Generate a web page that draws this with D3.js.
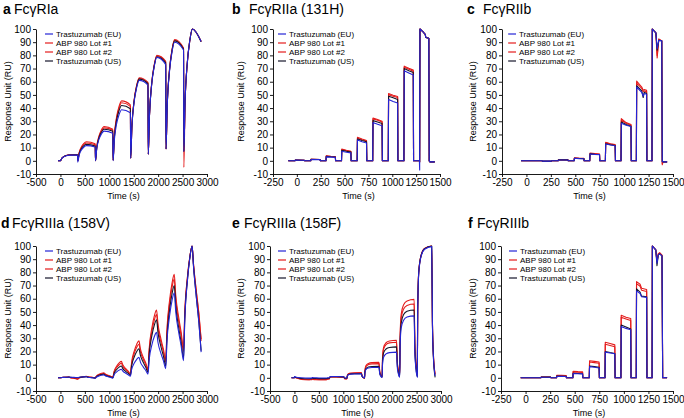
<!doctype html>
<html>
<head>
<meta charset="UTF-8">
<title>Fc gamma receptor binding sensorgrams</title>
<script src="https://cdn.jsdelivr.net/npm/d3@7"></script>
<style>
body { margin: 0; background: #fff; }
svg text { font-family: "Liberation Sans", Arial, sans-serif; fill: #000; }
</style>
</head>
<body>
<svg id="chart" width="684" height="418"></svg>
<script>
// series, in legend order
var seriesNames = ["Trastuzumab (EU)", "ABP 980 Lot #1", "ABP 980 Lot #2", "Trastuzumab (US)"];
var seriesColors = ["#2424d6", "#e41c1c", "#e41c1c", "#15152a"];
var yTicks = [-10, 0, 10, 20, 30, 40, 50, 60, 70, 80, 90, 100];
var xTicksLong = [-500, 0, 500, 1000, 1500, 2000, 2500, 3000];
var xTicksShort = [-250, 0, 250, 500, 750, 1000, 1250, 1500];

// a  FcγRIa
var aTime = [-50, 0, 25, 70, 120, 175, 350, 356, 381, 426, 476, 531, 712, 718, 743, 788, 838, 893, 1072, 1078, 1103, 1148, 1198, 1253, 1432, 1438, 1463, 1508, 1558, 1613, 1792, 1798, 1823, 1868, 1918, 1973, 2155, 2161, 2186, 2231, 2281, 2336, 2520, 2526, 2551, 2596, 2646, 2701, 2880];
var aEU   = [0, 0, 1.7, 3.1, 3.9, 4.3, 4.3, -1, 4, 8, 10.3, 11.5, 10.5, 0, 9, 16.2, 20.3, 22.5, 21, 0, 15.5, 27.8, 34.8, 38.7, 36.5, 2, 25.6, 44.5, 55.1, 61, 57.5, 5, 34.4, 57.9, 71.2, 78.5, 73, 9, 41.4, 67.3, 81.9, 90, 84, 7, 44.2, 74, 90.7, 100, 90.5];
var aLot1 = [0, 0, 1.8, 3.2, 4.1, 4.5, 4.6, 0, 5.8, 10.4, 13.1, 14.5, 13, 0, 10.4, 18.7, 23.4, 26, 24, 0.5, 18.5, 32.9, 41, 45.5, 42.5, 2, 26.4, 45.9, 56.9, 63, 59.5, 5, 35, 59, 72.5, 80, 75.5, 9, 42.2, 68.8, 83.7, 92, 85.5, -5, 44, 74, 90.7, 100, 90.5];
var aLot2 = [0, 0, 1.8, 3.2, 4, 4.5, 4.5, 0, 5.4, 9.7, 12.2, 13.5, 12.2, 0, 10, 18, 22.5, 25, 23.2, 0.5, 17.9, 31.8, 39.6, 44, 41.3, 2, 26.2, 45.6, 56.5, 62.5, 59, 5, 34.8, 58.6, 72, 79.5, 75, 9, 42, 68.4, 83.3, 91.5, 85, 7, 44.2, 74, 90.7, 100, 90.5];
var aUS   = [0, 0, 1.8, 3.2, 4, 4.4, 4.5, 0, 5, 9, 11.3, 12.5, 11.3, 0, 9.6, 17.3, 21.6, 24, 22.5, 0.5, 17, 30.4, 37.9, 42, 39.5, 2, 26, 45.2, 56, 62, 58.5, 5, 34.6, 58.3, 71.6, 79, 74.3, 9, 41.8, 68, 82.8, 91, 84.6, 7, 44.2, 74, 90.7, 100, 90.3];

// b  FcγRIIa (131H)
var bTime = [-90, -20, -17, 78, 81, 145, 148, 243, 246, 305, 308, 356, 403, 406, 468, 471, 519, 566, 569, 632, 635, 683, 730, 733, 795, 798, 846, 893, 896, 958, 961, 1009, 1056, 1059, 1122, 1125, 1173, 1220, 1223, 1284, 1287, 1290, 1320, 1345, 1352, 1383, 1387, 1395, 1445];
var bEU   = [0, 0, 0.5, 0.4, 0, 0, 1, 0.9, 0, 0, 3, 2.8, 2.6, 0, 0, 7.2, 6.5, 6, 0, 0, 15.8, 14.5, 13.5, 0, 0, 29, 27.8, 26.6, 0, 0, 46.5, 45, 43.8, 0, 0, 68.3, 66.7, 65.1, 0, 0, -7, 100, 98, 96, 93.5, 93, 0, -0.8, -0.8];
var bLot1 = [0, 0, 0.5, 0.4, 0, 0, 1.2, 1, 0, 0, 3.8, 3.5, 3.3, 0, 0, 8.9, 8, 7.3, 0, 0, 17.8, 16.5, 15.4, 0, 0, 32.5, 31.3, 30, 0, 0, 51, 49.8, 48.8, 0, 0, 71.8, 70.2, 68.8, 0, 0, -1, 100, 98, 96, 93.5, 93, 0, -0.8, -0.8];
var bLot2 = [0, 0, 0.5, 0.4, 0, 0, 1.2, 1, 0, 0, 3.6, 3.3, 3.1, 0, 0, 8.5, 7.7, 7, 0, 0, 17.2, 16, 15, 0, 0, 31.8, 30.8, 29.5, 0, 0, 50.2, 49, 48, 0, 0, 71, 69.4, 68, 0, 0, -1, 100, 98, 96, 93.5, 93, 0, -0.8, -0.8];
var bUS   = [0, 0, 0.5, 0.4, 0, 0, 1.1, 1, 0, 0, 3.4, 3.1, 2.9, 0, 0, 8, 7.2, 6.6, 0, 0, 16.6, 15.4, 14.4, 0, 0, 30.5, 29.5, 28.3, 0, 0, 49, 47.8, 46.5, 0, 0, 70, 68.4, 67, 0, 0, -1, 100, 98, 96, 93.5, 93, 0, -0.8, -0.8];

// c  FcγRIIb
var cTime = [-55, 160, 163, 255, 258, 325, 328, 425, 428, 488, 491, 540, 588, 591, 648, 651, 700, 748, 751, 808, 811, 860, 908, 911, 968, 971, 1020, 1070, 1073, 1125, 1128, 1180, 1195, 1205, 1230, 1233, 1285, 1288, 1325, 1338, 1355, 1385, 1390, 1398, 1440];
var cEU   = [0, 0, -0.2, -0.2, 0, 0, 0.6, 0.6, 0, 0, 1.9, 1.7, 1.6, 0, 0, 5.2, 4.9, 4.7, 0, 0, 12.7, 12, 11.4, 0, 0, 28.5, 27, 26, 0, 0, 56, 52, 49, 51, 50.5, 0, 0, 100, 97, 85, 91.5, 91, -0.5, -0.8, -0.8];
var cLot1 = [0, 0, -0.3, -0.3, 0, 0, 0.8, 0.7, 0, 0, 2.2, 2, 1.9, 0, 0, 5.8, 5.5, 5.2, 0, 0, 14, 13, 12.3, 0, 0, 32, 29, 27.5, 0, 0, 60.5, 56, 53.5, 54, 53.5, 0, 0, 100, 97, 78, 92.5, 91, -3, -0.8, -0.8];
var cLot2 = [0, 0, -0.3, -0.3, 0, 0, 0.8, 0.7, 0, 0, 2.1, 1.9, 1.8, 0, 0, 5.6, 5.3, 5, 0, 0, 13.6, 12.7, 12, 0, 0, 31, 28.5, 27, 0, 0, 59, 55, 52.5, 53, 52.5, 0, 0, 100, 97, 80, 92, 91, -2, -0.8, -0.8];
var cUS   = [0, 0, -0.2, -0.2, 0, 0, 0.8, 0.7, 0, 0, 2, 1.8, 1.7, 0, 0, 5.3, 5, 4.8, 0, 0, 13, 12.2, 11.6, 0, 0, 29.5, 27.5, 26.3, 0, 0, 57, 53, 48, 52, 51, 0, 0, 100, 97, 84, 91.5, 91, -0.5, -0.8, -0.8];

// d  FcγRIIIa (158V)
var dTime = [-50, 0, 25, 80, 130, 175, 205, 265, 315, 355, 380, 435, 485, 530, 560, 620, 670, 712, 737, 792, 842, 887, 917, 977, 1027, 1072, 1097, 1152, 1202, 1247, 1277, 1337, 1387, 1432, 1457, 1512, 1562, 1607, 1637, 1697, 1747, 1792, 1817, 1872, 1922, 1967, 1997, 2057, 2107, 2155, 2180, 2235, 2285, 2330, 2360, 2420, 2470, 2520, 2545, 2600, 2650, 2695, 2725, 2785, 2835, 2880];
var dEU   = [0, 0, 0.18, 0.35, 0.45, 0.5, 0.42, 0.33, 0.27, 0.2, 0.41, 0.62, 0.74, 0.8, 0.49, 0.16, -0.06, -0.3, 0.58, 1.45, 1.95, 2.2, 1.53, 0.81, 0.33, -0.2, 2.15, 4.49, 5.83, 6.5, 5.02, 3.43, 2.37, 1.2, 6.2, 11.2, 14.07, 15.5, 11.94, 8.13, 5.59, 2.8, 13.9, 25, 31.3, 34.5, 26.8, 18.55, 13.05, 7, 27.1, 47.25, 58.75, 64.5, 50.1, 34.6, 24.3, 13, 43.45, 73.9, 91.3, 100, 83.9, 59.75, 41.2, 19.5];
var dLot1 = [0, 0, 0.2, 0.4, 0.55, 0.6, 0.15, -0.33, -0.65, -1, -0.23, 0.54, 0.98, 1.2, 0.86, 0.5, 0.26, 0, 1.33, 2.66, 3.42, 3.8, 2.88, 1.89, 1.23, 0.5, 4.7, 8.9, 11.3, 12.5, 9.84, 7, 5.1, 3, 11.75, 20.5, 25.5, 28, 22, 15.5, 11.2, 6.5, 22.25, 38, 47, 51.5, 40.9, 29.5, 21.9, 13.5, 36.25, 59, 72, 78.5, 62.8, 46, 34.8, 22.5, 49.6, 76.75, 92.25, 100, 85.9, 64.75, 48.5, 29.5];
var dLot2 = [0, 0, 0.18, 0.35, 0.45, 0.5, 0.14, -0.25, -0.51, -0.8, -0.17, 0.46, 0.82, 1, 0.72, 0.42, 0.22, 0, 1.16, 2.31, 2.97, 3.3, 2.49, 1.62, 1.04, 0.4, 4.11, 7.82, 9.94, 11, 8.62, 6.07, 4.37, 2.5, 10.55, 18.6, 23.2, 25.5, 19.9, 13.9, 9.9, 5.5, 20.4, 35.25, 43.75, 48, 37.9, 27.1, 19.9, 12, 34.05, 56.1, 68.7, 75, 59.6, 43.1, 32.1, 20, 48, 76, 92, 100, 85.6, 64, 47.4, 28];
var dUS   = [0, 0, 0.18, 0.35, 0.45, 0.5, 0.36, 0.21, 0.11, 0, 0.28, 0.56, 0.72, 0.8, 0.52, 0.22, 0.02, -0.2, 0.85, 1.9, 2.5, 2.8, 2.02, 1.18, 0.62, 0, 3.15, 6.3, 8.1, 9, 6.98, 4.82, 3.38, 1.8, 8.87, 15.94, 19.98, 22, 16.96, 11.56, 7.96, 4, 18, 32, 40, 44, 34.2, 23.7, 16.7, 9, 30.35, 51.7, 63.9, 70, 54.6, 38.1, 27.1, 15, 44.75, 74.5, 91.5, 100, 84.1, 60.25, 42, 20.5];

// e  FcγRIIIa (158F)
var eTime = [-60, -5, 3, 25, 75, 145, 285, 300, 320, 355, 363, 385, 435, 505, 650, 665, 685, 715, 723, 745, 795, 865, 1010, 1025, 1045, 1075, 1083, 1105, 1155, 1225, 1370, 1385, 1405, 1435, 1443, 1465, 1515, 1585, 1730, 1745, 1765, 1795, 1803, 1825, 1875, 1945, 2090, 2105, 2125, 2155, 2163, 2185, 2235, 2305, 2450, 2465, 2485, 2515, 2523, 2545, 2595, 2665, 2810, 2825, 2845, 2880];
var eEU   = [0, 0, 1, 0.6, 0.2, 0, -0.2, -0.2, -0.2, -0.2, 0.2, 0.1, 0, -0.1, -0.1, -0.1, 0, 0, 0.6, 0.9, 1, 1, 0.8, 0.1, -0.1, -0.1, 1.45, 2.38, 2.78, 2.94, 3, 1.2, 0.45, 0, 4, 6.4, 7.44, 7.84, 8, 3.32, 1.37, 0.2, 9.85, 15.64, 18.15, 19.11, 19.5, 8.1, 3.35, 0.5, 23.75, 37.7, 43.75, 46.07, 47, 19.1, 7.48, 0.5, 50, 79.7, 92.6, 97.5, 99.5, 40.4, 15.8, 1.5];
var eLot1 = [0, 0, 0.3, 0.2, -0.5, -1.2, -1.5, -1.5, -1.4, -1.4, -1, -1.2, -1.4, -1.5, -1.5, -1.2, -1, -0.8, 0.3, 0.6, 0.7, 0.7, 0.5, -0.5, -0.8, -0.8, 1.6, 3.04, 3.66, 3.9, 4, 1.42, 0.35, -0.3, 5.75, 9.38, 10.95, 11.56, 11.8, 5.32, 2.62, 1, 14.75, 23, 26.6, 27.95, 28.5, 12.9, 6.4, 2.5, 31, 48.1, 55.5, 58.36, 59.5, 25.9, 11.9, 3.5, 51.75, 80.7, 93.25, 98.07, 100, 41.8, 17.55, 3];
var eLot2 = [0, 0, 0.3, 0.1, -0.5, -1.1, -1.4, -1.4, -1.3, -1.3, -0.9, -1.1, -1.3, -1.4, -1.4, -1.1, -0.9, -0.7, 0.3, 0.6, 0.7, 0.7, 0.5, -0.4, -0.7, -0.7, 1.45, 2.74, 3.3, 3.5, 3.6, 1.26, 0.29, -0.3, 5.25, 8.58, 10.02, 10.58, 10.8, 4.8, 2.3, 0.8, 13.9, 21.76, 25.17, 26.48, 27, 12.12, 5.92, 2.2, 29.1, 45.24, 52.23, 54.92, 56, 24.2, 10.95, 3, 51.5, 80.6, 93.2, 98.06, 100, 41.5, 17.1, 2.5];
var eUS   = [0, 0, 0.5, 0.3, 0, -0.5, -0.7, -0.7, -0.6, -0.6, -0.3, -0.4, -0.5, -0.6, -0.6, -0.5, -0.4, -0.3, 0.5, 0.8, 0.9, 0.9, 0.7, -0.1, -0.3, -0.3, 1.45, 2.5, 2.96, 3.13, 3.2, 1.16, 0.31, -0.2, 4.3, 7, 8.17, 8.62, 8.8, 3.76, 1.66, 0.4, 11.95, 18.88, 21.88, 23.04, 23.5, 10, 4.38, 1, 26.25, 41.4, 47.97, 50.49, 51.5, 21.2, 8.58, 1, 50.5, 80.2, 93.07, 98.02, 100, 40.2, 15.25, 0.3];

// f  FcγRIIIb
var fTime = [-50, 155, 158, 255, 258, 315, 318, 365, 413, 416, 481, 484, 532, 580, 583, 648, 651, 700, 748, 751, 808, 811, 860, 908, 911, 970, 973, 1022, 1070, 1073, 1126, 1129, 1165, 1180, 1232, 1235, 1287, 1290, 1325, 1337, 1350, 1364, 1388, 1395, 1405, 1440];
var fEU   = [0, 0, 0.4, 0.4, 0, 0, 1.2, 1.1, 1, 0, 0, 3.3, 3.1, 3, 0, 0, 8.5, 8, 7.5, 0, 0, 19.5, 18.8, 18.2, 0, 0, 39, 37.5, 36.5, 0, 0, 66, 64, 61.5, 61, 0, 0, 100, 97, 87, 93, 94, 92.5, 0, 0.2, 0];
var fLot1 = [0, 0, 0.5, 0.5, 0, 0, 2, 1.9, 1.8, 0, 0, 5, 4.7, 4.5, 0, 0, 13, 12.5, 12, 0, 0, 27, 26, 25, 0, 0, 47.5, 46, 45, 0, 0, 73, 71, 68, 67, 0, 0, 100, 97, 88, 94, 95, 93, 0, 0.2, 0];
var fLot2 = [0, 0, 0.5, 0.5, 0, 0, 1.8, 1.7, 1.6, 0, 0, 4.5, 4.2, 4, 0, 0, 12, 11.5, 11, 0, 0, 25.5, 24.5, 23.5, 0, 0, 46, 44.7, 43.5, 0, 0, 71.5, 69.5, 66.5, 65.5, 0, 0, 100, 97, 88, 94, 94.5, 92.8, 0, 0.2, 0];
var fUS   = [0, 0, 0.5, 0.5, 0, 0, 1.3, 1.2, 1.1, 0, 0, 3.5, 3.3, 3.1, 0, 0, 9, 8.5, 8, 0, 0, 20, 19.2, 18.5, 0, 0, 40, 38.5, 37, 0, 0, 67.5, 65, 62, 61.5, 0, 0, 100, 97, 85, 93, 94, 92.5, 0, 0.2, 0];

var panels = [
  {letter: "a", name: "FcγRIa", time: aTime, values: [aEU, aLot1, aLot2, aUS], xTicks: xTicksLong, smooth: true,
   left: 36, right: 207, top: 29, bottom: 174, letterX: 3, nameX: 14, titleY: 14, ylabX: 10.5, legendX: 45},
  {letter: "b", name: "FcγRIIa (131H)", time: bTime, values: [bEU, bLot1, bLot2, bUS], xTicks: xTicksShort, smooth: false,
   left: 273, right: 440, top: 29, bottom: 174, letterX: 232, nameX: 249, titleY: 14, ylabX: 243.5, legendX: 278},
  {letter: "c", name: "FcγRIIb", time: cTime, values: [cEU, cLot1, cLot2, cUS], xTicks: xTicksShort, smooth: false,
   left: 502, right: 673, top: 29, bottom: 174, letterX: 467, nameX: 483, titleY: 14, ylabX: 475.5, legendX: 508},
  {letter: "d", name: "FcγRIIIa (158V)", time: dTime, values: [dEU, dLot1, dLot2, dUS], xTicks: xTicksLong, smooth: true,
   left: 36, right: 207, top: 246, bottom: 391, letterX: 1, nameX: 12, titleY: 228, ylabX: 10.5, legendX: 45},
  {letter: "e", name: "FcγRIIIa (158F)", time: eTime, values: [eEU, eLot1, eLot2, eUS], xTicks: xTicksLong, smooth: true,
   left: 270, right: 441, top: 246, bottom: 391, letterX: 232, nameX: 244, titleY: 228, ylabX: 243.5, legendX: 278},
  {letter: "f", name: "FcγRIIIb", time: fTime, values: [fEU, fLot1, fLot2, fUS], xTicks: xTicksShort, smooth: false,
   left: 501, right: 673, top: 246, bottom: 391, letterX: 468, nameX: 477, titleY: 228, ylabX: 475.5, legendX: 509}
];

var svg = d3.select("#chart");
var drawOrder = [1, 2, 3, 0];   // Lot #1, Lot #2, US, then EU on top
var plain = function(d) { return String(d); };   // "-500", "1000": no comma, ascii minus

panels.forEach(function(p) {
  var g = svg.append("g");
  var x = d3.scaleLinear()
    .domain([p.xTicks[0], p.xTicks[p.xTicks.length - 1]])
    .range([p.left, p.right]);
  var y = d3.scaleLinear().domain([-10, 100]).range([p.bottom, p.top]);

  var gx = g.append("g")
    .attr("transform", "translate(0," + p.bottom + ")")
    .call(d3.axisBottom(x).tickValues(p.xTicks).tickFormat(plain).tickSize(3).tickSizeOuter(0).tickPadding(2));
  var gy = g.append("g")
    .attr("transform", "translate(" + p.left + ",0)")
    .call(d3.axisLeft(y).tickValues(yTicks).tickFormat(plain).tickSize(3).tickSizeOuter(0).tickPadding(2));
  [gx, gy].forEach(function(ax) {
    ax.attr("font-family", null).attr("font-size", null);
    ax.selectAll("text").style("font-size", "10px");
    ax.selectAll("path, line").attr("stroke", "#000").attr("stroke-width", 0.9);
  });

  var line = d3.line()
    .x(function(d) { return x(d[0]); })
    .y(function(d) { return y(d[1]); })
    .curve(p.smooth ? d3.curveMonotoneX : d3.curveLinear);

  drawOrder.forEach(function(s) {
    var pts = p.time.map(function(t, i) { return [t, p.values[s][i]]; });
    g.append("path")
      .attr("d", line(pts))
      .attr("fill", "none")
      .attr("stroke", seriesColors[s])
      .attr("stroke-width", 1.1)
      .attr("stroke-linejoin", "round");
  });

  // legend
  seriesNames.forEach(function(n, i) {
    var ly = p.top + 5 + i * 9;
    g.append("line")
      .attr("x1", p.legendX).attr("x2", p.legendX + 8)
      .attr("y1", ly).attr("y2", ly)
      .attr("stroke", seriesColors[i]).attr("stroke-width", 1.2);
    g.append("text")
      .attr("x", p.legendX + 11).attr("y", ly + 3)
      .style("font-size", "8px")
      .text(n);
  });

  // titles and axis labels
  var title = g.append("text").attr("y", p.titleY).style("font-size", "14px");
  title.append("tspan").attr("x", p.letterX).style("font-weight", "bold").text(p.letter);
  title.append("tspan").attr("x", p.nameX).text(p.name);

  g.append("text")
    .attr("transform", "translate(" + p.ylabX + "," + ((p.top + p.bottom) / 2) + ") rotate(-90)")
    .attr("text-anchor", "middle")
    .style("font-size", "9px")
    .text("Response Unit (RU)");

  g.append("text")
    .attr("x", (p.left + p.right) / 2 + 2)
    .attr("y", p.bottom + 25)
    .attr("text-anchor", "middle")
    .style("font-size", "9px")
    .text("Time (s)");
});
</script>
</body>
</html>
